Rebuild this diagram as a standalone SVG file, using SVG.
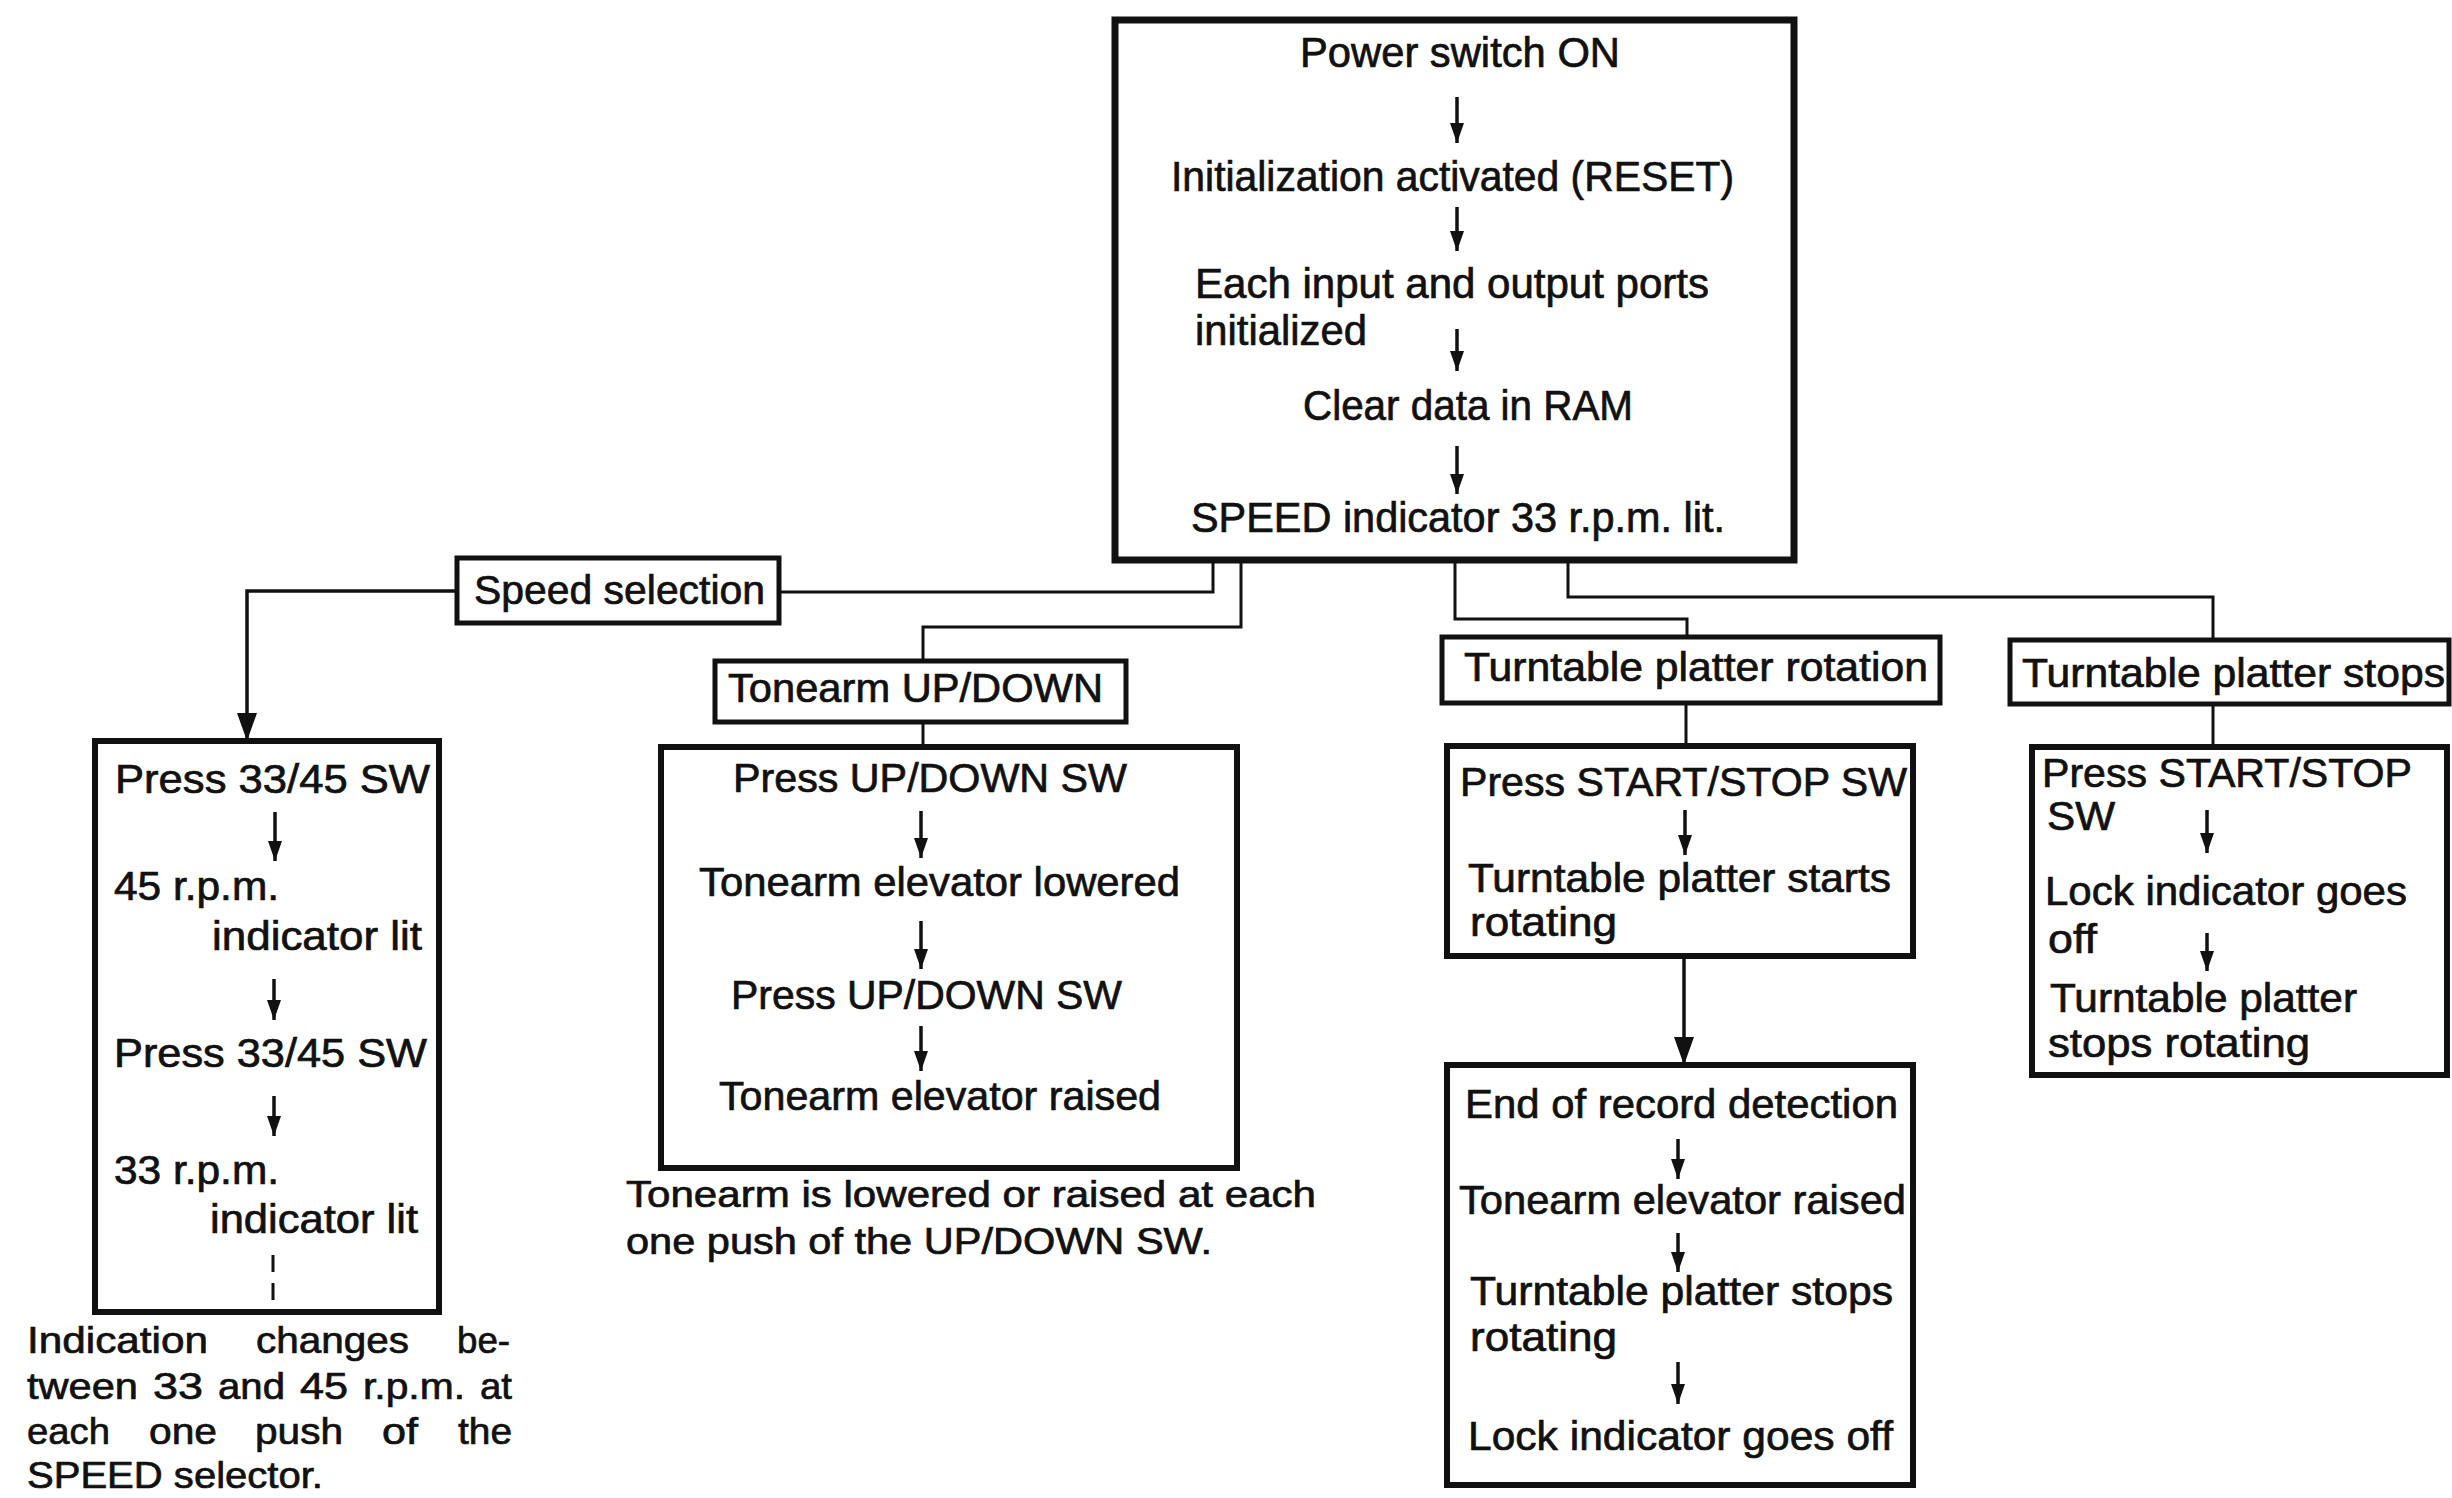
<svg xmlns="http://www.w3.org/2000/svg" width="2452" height="1498" viewBox="0 0 2452 1498">
<defs>
<style>
.t{font-family:"Liberation Sans",Arial,sans-serif;font-size:40px;fill:#111;stroke:#111;stroke-width:0.7}
.tm{font-size:42px}
.tp{font-size:37px}
.box{fill:none;stroke:#111;stroke-width:6}
.bm{stroke-width:7}
.lb{fill:none;stroke:#111;stroke-width:5}
.c{fill:none;stroke:#111;stroke-width:3}
.a{fill:none;stroke:#111;stroke-width:3.5;marker-end:url(#ah)}
.ab{fill:none;stroke:#111;stroke-width:3.5;marker-end:url(#ahb)}
</style>
<marker id="ah" viewBox="0 0 20 14" refX="20" refY="7" markerWidth="20" markerHeight="14" orient="auto" markerUnits="userSpaceOnUse"><path d="M0,0 L20,7 L0,14 z" fill="#111"/></marker>
<marker id="ahb" viewBox="0 0 28 20" refX="28" refY="10" markerWidth="28" markerHeight="20" orient="auto" markerUnits="userSpaceOnUse"><path d="M0,0 L28,10 L0,20 z" fill="#111"/></marker>
</defs>
<rect width="2452" height="1498" fill="#fff"/>

<g id="connectors">
<path class="c" d="M1213,560 V592 H779"/>
<path class="ab" d="M457,591 H247 V741"/>
<path class="c" d="M1241,560 V627 H923 V661"/>
<path class="c" d="M1455,560 V619 H1687 V637"/>
<path class="c" d="M1568,560 V597 H2213 V640"/>
<path class="c" d="M923,722 V747"/>
<path class="c" d="M1686,703 V746"/>
<path class="ab" d="M1684,957 V1065"/>
<path class="c" d="M2213,704 V747"/>
</g>

<g id="main">
<rect class="box bm" x="1115" y="20" width="679" height="540"/>
<text class="t tm" x="1300" y="67" textLength="320" lengthAdjust="spacingAndGlyphs">Power switch ON</text>
<path class="a" d="M1457,97 V143"/>
<text class="t tm" x="1171" y="191" textLength="563" lengthAdjust="spacingAndGlyphs">Initialization activated (RESET)</text>
<path class="a" d="M1457,207 V251"/>
<text class="t tm" x="1195" y="298" textLength="514" lengthAdjust="spacingAndGlyphs">Each input and output ports</text>
<text class="t tm" x="1195" y="345" textLength="172" lengthAdjust="spacingAndGlyphs">initialized</text>
<path class="a" d="M1457,329 V371"/>
<text class="t tm" x="1303" y="420" textLength="330" lengthAdjust="spacingAndGlyphs">Clear data in RAM</text>
<path class="a" d="M1457,446 V494"/>
<text class="t tm" x="1191" y="532" textLength="534" lengthAdjust="spacingAndGlyphs">SPEED indicator 33 r.p.m. lit.</text>
</g>

<g id="speed-selection">
<rect class="lb" x="457" y="558" width="322" height="65"/>
<text class="t" x="474" y="604" textLength="291" lengthAdjust="spacingAndGlyphs">Speed selection</text>
</g>

<g id="speed-steps">
<rect class="box" x="95" y="741" width="344" height="571"/>
<text class="t" x="115" y="793" textLength="315" lengthAdjust="spacingAndGlyphs">Press 33/45 SW</text>
<path class="a" d="M275,812 V861"/>
<text class="t" x="114" y="900" textLength="165" lengthAdjust="spacingAndGlyphs">45 r.p.m.</text>
<text class="t" x="212" y="950" textLength="210" lengthAdjust="spacingAndGlyphs">indicator lit</text>
<path class="a" d="M274,979 V1020"/>
<text class="t" x="114" y="1067" textLength="313" lengthAdjust="spacingAndGlyphs">Press 33/45 SW</text>
<path class="a" d="M274,1096 V1136"/>
<text class="t" x="114" y="1184" textLength="165" lengthAdjust="spacingAndGlyphs">33 r.p.m.</text>
<text class="t" x="210" y="1233" textLength="208" lengthAdjust="spacingAndGlyphs">indicator lit</text>
<path class="c" d="M273,1255 V1272 M273,1283 V1300"/>
</g>

<g id="speed-note">
<text class="t tp" y="1353"><tspan x="27" textLength="181" lengthAdjust="spacingAndGlyphs">Indication</tspan><tspan x="256" textLength="153" lengthAdjust="spacingAndGlyphs">changes</tspan><tspan x="457" textLength="53" lengthAdjust="spacingAndGlyphs">be-</tspan></text>
<text class="t tp" y="1399"><tspan x="27" textLength="111" lengthAdjust="spacingAndGlyphs">tween</tspan><tspan x="153" textLength="50" lengthAdjust="spacingAndGlyphs">33</tspan><tspan x="218" textLength="67" lengthAdjust="spacingAndGlyphs">and</tspan><tspan x="300" textLength="48" lengthAdjust="spacingAndGlyphs">45</tspan><tspan x="363" textLength="102" lengthAdjust="spacingAndGlyphs">r.p.m.</tspan><tspan x="480" textLength="32" lengthAdjust="spacingAndGlyphs">at</tspan></text>
<text class="t tp" y="1444"><tspan x="27" textLength="83" lengthAdjust="spacingAndGlyphs">each</tspan><tspan x="149" textLength="68" lengthAdjust="spacingAndGlyphs">one</tspan><tspan x="255" textLength="88" lengthAdjust="spacingAndGlyphs">push</tspan><tspan x="382" textLength="36" lengthAdjust="spacingAndGlyphs">of</tspan><tspan x="458" textLength="54" lengthAdjust="spacingAndGlyphs">the</tspan></text>
<text class="t tp" x="27" y="1488" textLength="296" lengthAdjust="spacingAndGlyphs">SPEED selector.</text>
</g>

<g id="tonearm-label">
<rect class="lb" x="715" y="661" width="411" height="61"/>
<text class="t" x="728" y="702" textLength="375" lengthAdjust="spacingAndGlyphs">Tonearm UP/DOWN</text>
</g>

<g id="tonearm-steps">
<rect class="box" x="661" y="747" width="576" height="421"/>
<text class="t" x="733" y="792" textLength="394" lengthAdjust="spacingAndGlyphs">Press UP/DOWN SW</text>
<path class="a" d="M921,811 V858"/>
<text class="t" x="699" y="896" textLength="481" lengthAdjust="spacingAndGlyphs">Tonearm elevator lowered</text>
<path class="a" d="M921,921 V969"/>
<text class="t" x="731" y="1009" textLength="391" lengthAdjust="spacingAndGlyphs">Press UP/DOWN SW</text>
<path class="a" d="M921,1026 V1071"/>
<text class="t" x="719" y="1110" textLength="442" lengthAdjust="spacingAndGlyphs">Tonearm elevator raised</text>
</g>

<g id="tonearm-note">
<text class="t tp" x="626" y="1207" textLength="690" lengthAdjust="spacingAndGlyphs">Tonearm is lowered or raised at each</text>
<text class="t tp" x="626" y="1254" textLength="586" lengthAdjust="spacingAndGlyphs">one push of the UP/DOWN SW.</text>
</g>

<g id="rotation-label">
<rect class="lb" x="1442" y="637" width="498" height="66"/>
<text class="t" x="1464" y="681" textLength="464" lengthAdjust="spacingAndGlyphs">Turntable platter rotation</text>
</g>

<g id="rotation-start">
<rect class="box" x="1447" y="746" width="466" height="210"/>
<text class="t" x="1460" y="796" textLength="447" lengthAdjust="spacingAndGlyphs">Press START/STOP SW</text>
<path class="a" d="M1685,810 V855"/>
<text class="t" x="1468" y="892" textLength="423" lengthAdjust="spacingAndGlyphs">Turntable platter starts</text>
<text class="t" x="1470" y="936" textLength="147" lengthAdjust="spacingAndGlyphs">rotating</text>
</g>

<g id="end-of-record">
<rect class="box" x="1447" y="1065" width="466" height="420"/>
<text class="t" x="1465" y="1118" textLength="433" lengthAdjust="spacingAndGlyphs">End of record detection</text>
<path class="a" d="M1678,1139 V1179"/>
<text class="t" x="1459" y="1214" textLength="447" lengthAdjust="spacingAndGlyphs">Tonearm elevator raised</text>
<path class="a" d="M1678,1233 V1272"/>
<text class="t" x="1470" y="1305" textLength="423" lengthAdjust="spacingAndGlyphs">Turntable platter stops</text>
<text class="t" x="1470" y="1351" textLength="147" lengthAdjust="spacingAndGlyphs">rotating</text>
<path class="a" d="M1678,1362 V1404"/>
<text class="t" x="1468" y="1450" textLength="425" lengthAdjust="spacingAndGlyphs">Lock indicator goes off</text>
</g>

<g id="stops-label">
<rect class="lb" x="2010" y="640" width="439" height="64"/>
<text class="t" x="2022" y="687" textLength="423" lengthAdjust="spacingAndGlyphs">Turntable platter stops</text>
</g>

<g id="stops-steps">
<rect class="box" x="2032" y="747" width="415" height="328"/>
<text class="t" x="2042" y="787" textLength="370" lengthAdjust="spacingAndGlyphs">Press START/STOP</text>
<text class="t" x="2047" y="830" textLength="68" lengthAdjust="spacingAndGlyphs">SW</text>
<path class="a" d="M2207,810 V853"/>
<text class="t" x="2045" y="905" textLength="362" lengthAdjust="spacingAndGlyphs">Lock indicator goes</text>
<text class="t" x="2048" y="953" textLength="49" lengthAdjust="spacingAndGlyphs">off</text>
<path class="a" d="M2207,933 V971"/>
<text class="t" x="2050" y="1012" textLength="307" lengthAdjust="spacingAndGlyphs">Turntable platter</text>
<text class="t" x="2048" y="1057" textLength="262" lengthAdjust="spacingAndGlyphs">stops rotating</text>
</g>
</svg>
